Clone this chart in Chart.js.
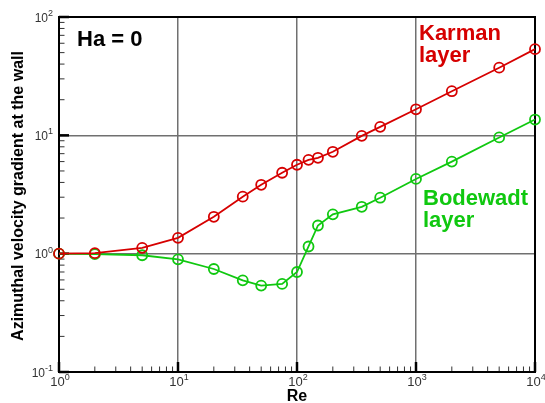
<!DOCTYPE html>
<html>
<head>
<meta charset="utf-8">
<script src="https://cdn.jsdelivr.net/npm/chart.js@4/dist/chart.umd.min.js"></script>
<style>
  html, body { margin: 0; padding: 0; background: #fff; }
  #wrap { width: 545px; height: 403px; position: relative; }
</style>
</head>
<body>
<div id="wrap"><canvas id="c" width="545" height="403"></canvas></div>
<script>
// Reynolds numbers of the computed cases
const reynolds = [1, 2, 5, 10, 20, 35, 50, 75, 100, 125, 150, 200, 350, 500, 1000, 2000, 5000, 10000];
// Azimuthal velocity gradient at the wall, Karman (rotating) layer
const karman = [1.0, 1.01, 1.12, 1.36, 2.05, 3.03, 3.82, 4.83, 5.64, 6.21, 6.46, 7.26, 9.9, 11.8, 16.6, 23.6, 37.3, 53.5];
// Azimuthal velocity gradient at the wall, Bodewadt (stationary) layer
const bodewadt = [1.0, 0.99, 0.97, 0.895, 0.742, 0.595, 0.537, 0.555, 0.70, 1.15, 1.73, 2.15, 2.49, 2.97, 4.28, 6.0, 9.6, 13.6];

// Decade exponents used for tick labels
const xDecades = [0, 1, 2, 3, 4];
const yDecades = [-1, 0, 1, 2];

const RED = '#d60000';
const GREEN = '#10c810';
const FONT = '"Liberation Sans", Arial, Helvetica, sans-serif';

function logTicks(lo, hi) {
  const out = [];
  for (let e = lo; e < hi; e++) {
    for (let m = 1; m < 10; m++) out.push({ value: m * Math.pow(10, e) });
  }
  out.push({ value: Math.pow(10, hi) });
  return out;
}
function isDecade(v) {
  const l = Math.log10(v);
  return Math.abs(l - Math.round(l)) < 1e-9;
}

const frameAndLabels = {
  id: 'frameAndLabels',
  beforeDatasetsDraw(chart) {
    const { ctx, chartArea: a, scales } = chart;
    const xs = scales.x, ys = scales.y;
    ctx.save();
    // inward ticks on bottom and left axes
    xs.ticks.forEach(t => {
      const px = xs.getPixelForValue(t.value);
      const major = isDecade(t.value);
      ctx.lineWidth = major ? 2.5 : 1;
      ctx.strokeStyle = major ? '#000' : '#333';
      ctx.beginPath();
      ctx.moveTo(px, a.bottom);
      ctx.lineTo(px, a.bottom - (major ? 10 : 5.5));
      ctx.stroke();
    });
    ys.ticks.forEach(t => {
      const py = ys.getPixelForValue(t.value);
      const major = isDecade(t.value);
      ctx.lineWidth = major ? 2.5 : 1;
      ctx.strokeStyle = major ? '#000' : '#333';
      ctx.beginPath();
      ctx.moveTo(a.left, py);
      ctx.lineTo(a.left + (major ? 10 : 5.5), py);
      ctx.stroke();
    });
    // plot frame
    ctx.strokeStyle = '#000';
    ctx.lineWidth = 2;
    ctx.strokeRect(a.left, a.top, a.right - a.left, a.bottom - a.top);

    // x tick labels: 10^n
    ctx.fillStyle = '#333';
    ctx.textBaseline = 'alphabetic';
    xDecades.forEach(e => {
      const px = xs.getPixelForValue(Math.pow(10, e));
      ctx.font = '13px ' + FONT;
      const w1 = ctx.measureText('10').width;
      ctx.font = '9px ' + FONT;
      const w2 = ctx.measureText(String(e)).width;
      const left = px - (w1 + w2) / 2 + 1;
      ctx.font = '13px ' + FONT;
      ctx.textAlign = 'left';
      ctx.fillText('10', left, a.bottom + 14);
      ctx.font = '9px ' + FONT;
      ctx.fillText(String(e), left + w1, a.bottom + 8);
    });
    // y tick labels: 10^n
    yDecades.forEach(e => {
      const py = ys.getPixelForValue(Math.pow(10, e));
      ctx.font = '9px ' + FONT;
      const w2 = ctx.measureText(String(e)).width;
      ctx.font = '12px ' + FONT;
      const w1 = ctx.measureText('10').width;
      const right = a.left - 6;
      ctx.textAlign = 'left';
      ctx.fillText('10', right - w2 - w1, py + 4.5);
      ctx.font = '9px ' + FONT;
      ctx.fillText(String(e), right - w2, py - 1);
    });

    // axis titles
    ctx.fillStyle = '#000';
    ctx.font = 'bold 16px ' + FONT;
    ctx.textAlign = 'center';
    ctx.fillText('Re', (a.left + a.right) / 2, a.bottom + 29);
    ctx.save();
    ctx.translate(23, 196);
    ctx.rotate(-Math.PI / 2);
    ctx.font = 'bold 16px ' + FONT;
    ctx.fillText('Azimuthal velocity gradient at the wall', 0, 0);
    ctx.restore();

    // in-plot annotations
    ctx.textAlign = 'left';
    ctx.font = 'bold 22px ' + FONT;
    ctx.fillStyle = '#000';
    ctx.fillText('Ha = 0', 77, 46);
    ctx.fillStyle = RED;
    ctx.fillText('Karman', 419, 39.5);
    ctx.fillText('layer', 419, 61.5);
    ctx.fillStyle = GREEN;
    ctx.fillText('Bodewadt', 423, 205);
    ctx.fillText('layer', 423, 226.5);
    ctx.restore();
  }
};

function series(values, color) {
  return {
    data: reynolds.map((r, i) => ({ x: r, y: values[i] })),
    borderColor: color,
    borderWidth: 1.8,
    pointRadius: 5,
    pointBorderWidth: 1.8,
    pointBorderColor: color,
    pointBackgroundColor: 'rgba(255,255,255,0)',
    pointStyle: 'circle',
    showLine: true,
    tension: 0,
    clip: false
  };
}

new Chart(document.getElementById('c'), {
  type: 'scatter',
  data: {
    datasets: [series(karman, RED), series(bodewadt, GREEN)]
  },
  options: {
    responsive: false,
    animation: false,
    devicePixelRatio: 1,
    layout: { padding: { left: 59, right: 10, top: 17, bottom: 31 } },
    plugins: { legend: { display: false }, tooltip: { enabled: false } },
    scales: {
      x: {
        type: 'logarithmic',
        min: 1, max: 10000,
        afterBuildTicks: s => { s.ticks = logTicks(0, 4); },
        ticks: { display: false },
        border: { display: false },
        grid: {
          drawTicks: false,
          lineWidth: 1.5,
          color: c => (c.tick && isDecade(c.tick.value)) ? '#707070' : 'rgba(0,0,0,0)'
        }
      },
      y: {
        type: 'logarithmic',
        min: 0.1, max: 100,
        afterBuildTicks: s => { s.ticks = logTicks(-1, 2); },
        ticks: { display: false },
        border: { display: false },
        grid: {
          drawTicks: false,
          lineWidth: 1.5,
          color: c => (c.tick && isDecade(c.tick.value)) ? '#707070' : 'rgba(0,0,0,0)'
        }
      }
    }
  },
  plugins: [frameAndLabels]
});
</script>
</body>
</html>
